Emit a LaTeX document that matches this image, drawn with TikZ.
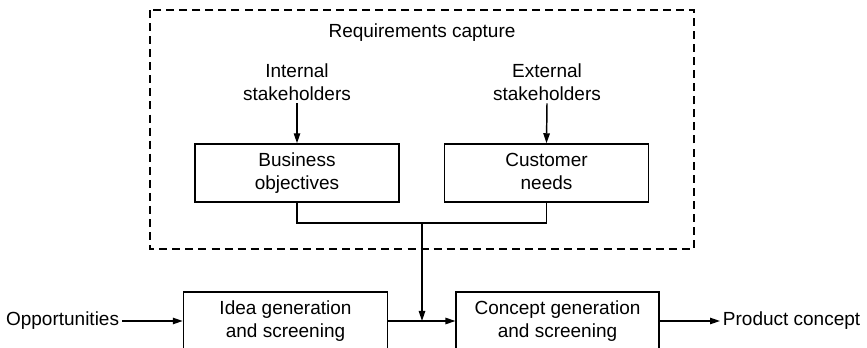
\documentclass[tikz,border=0pt]{standalone}
\usepackage{fontspec}
\setmainfont{Liberation Sans}
\usetikzlibrary{arrows.meta}
\begin{document}
\begin{tikzpicture}[x=0.75pt,y=-0.75pt,
  every node/.style={font=\fontsize{14.25}{17.25}\selectfont, align=center},
  box/.style={draw, line width=1.1pt, minimum width=153pt, minimum height=43.5pt, inner sep=0pt},
  lbl/.style={inner sep=2pt},
  conn/.style={line width=1.1pt},
  arr/.style={line width=1.1pt, -{Triangle[length=7.5pt,width=4.8pt]}},
  group/.style={draw, line width=1pt, dash pattern=on 6pt off 3.8pt}]
\clip (0,0) rectangle (867,348);
\draw[group] (150,10) rectangle (694,249);
\node (rc) at (422,33) {Requirements capture};
\node[lbl] (is) at (297,82) {Internal\\stakeholders};
\node[lbl] (es) at (547,82) {External\\stakeholders};
\node[box] (bo) at (297,173) {Business\strut\\objectives\strut};
\node[box] (cn) at (546.5,173) {Customer\strut\\needs\strut};
\node[box] (ig) at (285.5,321) {Idea generation\strut\\and screening\strut};
\node[box, minimum width=152pt] (cg) at (557.5,321) {Concept generation\strut\\and screening\strut};
\node[lbl, anchor=east] (op) at (122,321) {Opportunities};
\node[lbl, anchor=west] (pc) at (720,321) {Product concept};
\coordinate (j) at (422,223);
\coordinate (m) at (422,321);
\draw[arr] (is.south) -- (bo.north);
\draw[arr] (es.south) -- (cn.north);
\draw[conn] (bo.south) |- (j) -| (cn.south);
\draw[arr] (j) -- (m);
\draw[arr] (op.east) -- (ig.west);
\draw[arr] (ig.east) -- (cg.west);
\draw[arr] (cg.east) -- (pc.west);
\end{tikzpicture}
\end{document}
